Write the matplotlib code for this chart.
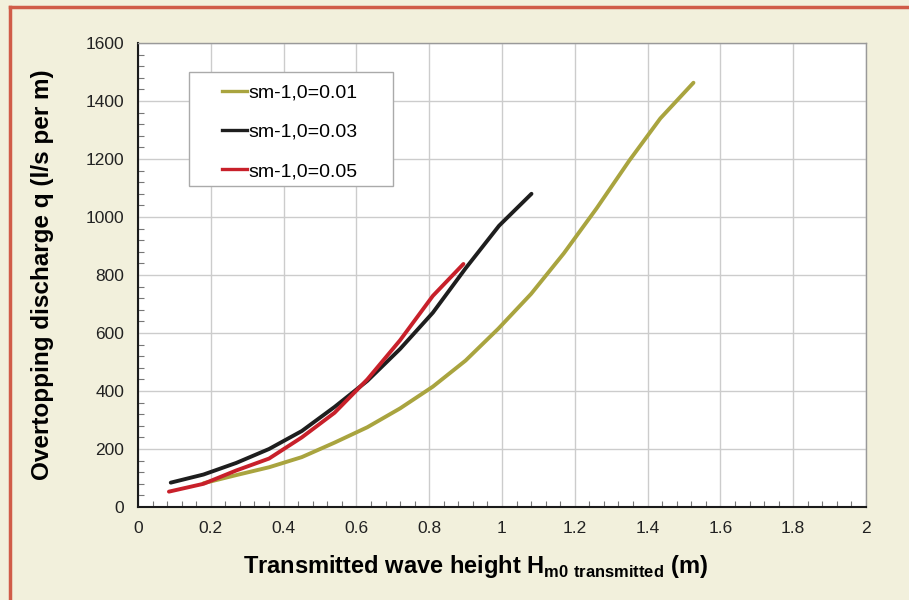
"""Overtopping discharge vs transmitted wave height for three wave steepness values."""
import matplotlib
matplotlib.use("Agg")
import matplotlib.pyplot as plt
from matplotlib.patches import Rectangle
from matplotlib.lines import Line2D
from matplotlib.ticker import MultipleLocator, FuncFormatter

plt.rcParams["font.family"] = ["Liberation Sans", "DejaVu Sans"]
plt.rcParams["mathtext.fontset"] = "custom"
plt.rcParams["mathtext.rm"] = "Liberation Sans"
plt.rcParams["mathtext.bf"] = "Liberation Sans:bold"

# sm-1,0 = 0.01
h_01 = [0.18, 0.27, 0.36, 0.45, 0.54, 0.63, 0.72, 0.81, 0.90, 0.99,
        1.08, 1.17, 1.26, 1.35, 1.435, 1.526]
q_01 = [82, 110, 137, 172, 222, 275, 340, 415, 505, 615,
        735, 875, 1030, 1195, 1340, 1463]
# sm-1,0 = 0.03
h_03 = [0.09, 0.18, 0.27, 0.36, 0.45, 0.54, 0.63, 0.72, 0.81, 0.90, 0.992, 1.081]
q_03 = [84, 112, 152, 200, 262, 345, 435, 545, 670, 823, 970, 1080]
# sm-1,0 = 0.05
h_05 = [0.085, 0.18, 0.27, 0.36, 0.45, 0.54, 0.63, 0.72, 0.81, 0.894]
q_05 = [53, 80, 126, 167, 240, 325, 440, 575, 728, 838]

series = [
    ("sm-1,0=0.01", h_01, q_01, "#A9A43F"),
    ("sm-1,0=0.03", h_03, q_03, "#1E1E1E"),
    ("sm-1,0=0.05", h_05, q_05, "#C8202A"),
]

BG = "#F2F0DC"
BORDER = "#D05C48"

fig = plt.figure(figsize=(9.09, 6.0), dpi=100, facecolor=BG)
ax = fig.add_axes([138 / 909, 93 / 600, 728 / 909, 464 / 600])
ax.set_facecolor("white")

for label, h, q, color in series:
    ax.plot(h, q, color=color, lw=2.8, label=label, solid_capstyle="round",
            solid_joinstyle="round", zorder=3)

ax.set_xlim(0, 2)
ax.set_ylim(0, 1600)
ax.xaxis.set_major_locator(MultipleLocator(0.2))
ax.xaxis.set_minor_locator(MultipleLocator(0.04))
ax.yaxis.set_major_locator(MultipleLocator(200))
ax.yaxis.set_minor_locator(MultipleLocator(40))
ax.xaxis.set_major_formatter(FuncFormatter(lambda v, p: f"{v:g}"))
ax.yaxis.set_major_formatter(FuncFormatter(lambda v, p: f"{v:g}"))
ax.grid(True, which="major", color="#CCCCCC", lw=1.0, zorder=0)
ax.set_axisbelow(True)
ax.tick_params(which="both", direction="in", colors="#222222", labelsize=12.5, pad=10)
ax.tick_params(which="major", length=0)
ax.tick_params(which="minor", length=4, width=0.8, color="#777777")

for side in ("left", "bottom"):
    ax.spines[side].set_color("#1A1A1A")
    ax.spines[side].set_linewidth(1.5)
for side in ("top", "right"):
    ax.spines[side].set_color("#999999")
    ax.spines[side].set_linewidth(1.0)

ax.set_ylabel("Overtopping discharge q (l/s per m)", fontsize=17.5, fontweight="bold",
              va="center")
ax.yaxis.set_label_coords(-(138 - 42) / 728, 0.5)
ax.set_xlabel(r"Transmitted wave height H$_{\mathbf{m0\ transmitted}}$ (m)",
              fontsize=17, fontweight="bold")
ax.xaxis.set_label_coords((476 - 138) / 728, -(566 - 507) / 464)
ax.xaxis.label.set_va("center")

# legend box
ax.add_patch(Rectangle((0.0701, 0.6918), 0.2802, 0.2457, transform=ax.transAxes,
                       facecolor="white", edgecolor="#AAAAAA", lw=1.0, zorder=4))
handles = [Line2D([], [], color=c, lw=2.4) for _, _, _, c in series]
labels = [s[0] for s in series]
leg = ax.legend(handles, labels, loc="upper left", bbox_to_anchor=(0.1154, 0.9115),
                frameon=False, borderpad=0, borderaxespad=0, handlelength=1.3,
                handletextpad=0.05, labelspacing=1.11, fontsize=14)
leg.set_zorder(5)

# frame border lines on the figure
fig.add_artist(Line2D([10 / 909, 10 / 909], [0, 1 - 7 / 600], color=BORDER, lw=2.5,
                      transform=fig.transFigure))
fig.add_artist(Line2D([10 / 909, 1], [1 - 7 / 600, 1 - 7 / 600], color=BORDER, lw=2.5,
                      transform=fig.transFigure))

fig.savefig("out.png", dpi=100, facecolor=BG)
